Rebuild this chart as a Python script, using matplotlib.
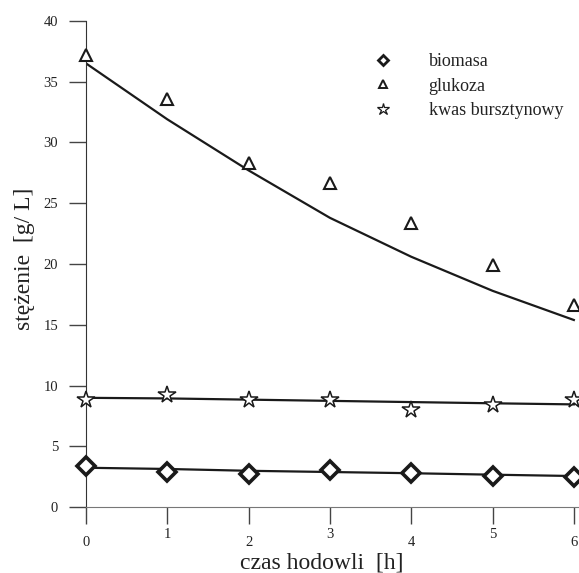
import matplotlib.pyplot as plt
import numpy as np
from matplotlib.lines import Line2D

plt.rcParams['font.family'] = ['Liberation Serif', 'DejaVu Serif']

# czas hodowli [h]
t = [0, 1, 2, 3, 4, 5, 6]

# measured points
biomasa = [3.4, 2.9, 2.7, 3.1, 2.8, 2.6, 2.5]
glukoza = [37.2, 33.6, 28.3, 26.7, 23.4, 19.9, 16.6]
kwas = [8.8, 9.2, 8.8, 8.8, 8.0, 8.4, 8.8]

# fitted model curves
biomasa_fit = [3.25, 3.15, 3.0, 2.9, 2.8, 2.68, 2.57]
glukoza_fit = [36.5, 31.9, 27.7, 23.8, 20.6, 17.8, 15.4]
kwas_fit = [9.0, 8.95, 8.85, 8.75, 8.65, 8.55, 8.46]

labels = ['biomasa', 'glukoza', 'kwas bursztynowy']

fig = plt.figure(figsize=(5.79, 5.73), dpi=100)
ax = fig.add_axes([0.1485, 0.1147, 0.851, 0.849])

for fit in (biomasa_fit, glukoza_fit, kwas_fit):
    ax.plot(t, fit, color='#1a1a1a', lw=1.6, zorder=2)

mk = dict(linestyle='none', markerfacecolor='white', markeredgecolor='#1a1a1a')
ax.plot(t, biomasa, marker='D', markersize=9, markeredgewidth=2.6,
        clip_on=False, zorder=3, **mk)
ax.plot(t, glukoza, marker='^', markersize=9, markeredgewidth=1.5,
        clip_on=False, zorder=3, **mk)
ax.plot(t, kwas, marker='*', markersize=13, markeredgewidth=1.1,
        clip_on=False, zorder=3, **mk)

ax.set_xlim(0, 6.06)
ax.set_ylim(0, 40)
ax.set_xticks(t)
ax.set_yticks(np.arange(0, 41, 5))

for s in ['top', 'right']:
    ax.spines[s].set_visible(False)
ax.spines['left'].set_color('#333333')
ax.spines['bottom'].set_color('#777777')

ax.tick_params(direction='out', length=12, width=1.0, color='#444444',
               labelsize=10.5, labelcolor='#222222')
ax.tick_params(axis='y', pad=8)
for i, tk in enumerate(ax.xaxis.get_major_ticks()):
    tk.set_pad(9 if i % 2 == 0 else 3)

ax.set_xlabel('czas hodowli  [h]', fontsize=17, color='#222222')
ax.xaxis.set_label_coords(0.478, -0.092)
ax.set_ylabel('stężenie  [g/ L]', fontsize=17, color='#222222')
ax.yaxis.set_label_coords(-0.104, 0.51)

handles = [
    Line2D([], [], marker='D', markersize=5, markeredgewidth=2, **mk),
    Line2D([], [], marker='^', markersize=6, markeredgewidth=1.4, **mk),
    Line2D([], [], marker='*', markersize=9, markeredgewidth=0.9, **mk),
]
ax.legend(handles, labels, loc='upper left', bbox_to_anchor=(0.567, 0.952),
          frameon=False, fontsize=13, handletextpad=2.0, labelspacing=0.42,
          handlelength=1.0, labelcolor='#222222', borderpad=0)

fig.savefig('out.png', dpi=100)
